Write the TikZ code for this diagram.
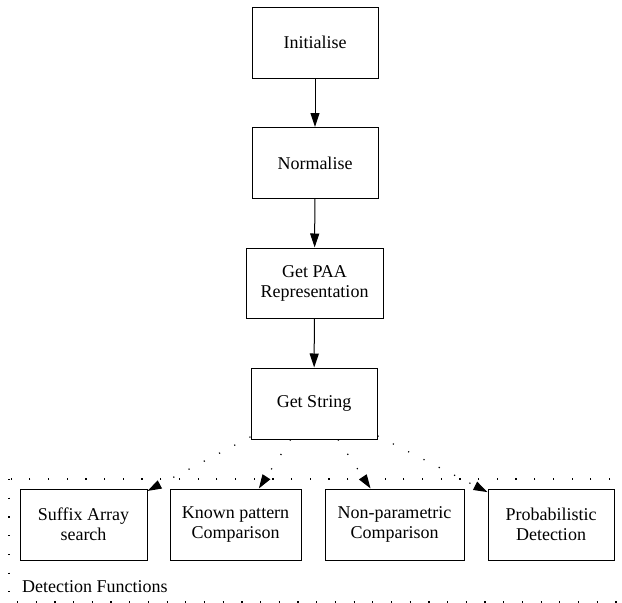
\documentclass[tikz,border=0pt]{standalone}
\usepackage{fontspec}
\setmainfont{Liberation Serif}
\usetikzlibrary{arrows.meta}
\tikzset{
  box/.style={draw, line width=1pt, rectangle, inner sep=0pt, align=center,
    font=\fontsize{18}{20}\selectfont},
  solidarrow/.style={draw, line width=1pt, -{Triangle[length=14pt,width=9pt]}},
  dotarrow/.style={draw, line width=1.2pt, dash pattern=on 1.2pt off 16pt,
    -{Triangle[length=14pt,width=9pt]}},
  clusterline/.style={draw, line width=1.2pt, dash pattern=on 1.2pt off 17.5pt},
}
\begin{document}
\begin{tikzpicture}[x=1pt,y=-1pt]
\clip (0,0) rectangle (622,603);
\fill[white] (0,0) rectangle (622,603);
% cluster
\draw[clusterline] (9,479) rectangle (626,602);
\node[anchor=base west, inner sep=0pt, font=\fontsize{18}{20}\selectfont] (lbl) at (22,592) {Detection Functions};
% main chain
\node[box, minimum width=126pt, minimum height=71pt] (init) at (315,42.5) {Initialise};
\node[box, minimum width=126pt, minimum height=71pt] (norm) at (315,163) {Normalise};
\node[box, minimum width=137pt, minimum height=70pt] (paa) at (314.5,283) {Get PAA\\Representation};
\node[box, minimum width=126pt, minimum height=71pt] (gstr) at (314,403.5) {Get String};
% detection functions
\node[box, minimum width=127pt, minimum height=71pt] (sfx) at (83.5,524.5) {Suffix Array\\search};
\node[box, minimum width=131pt, minimum height=71pt] (known) at (235.5,524.5) {Known pattern\\Comparison};
\node[box, minimum width=139pt, minimum height=71pt] (nonp) at (394.5,524.5) {Non-parametric\\Comparison};
\node[box, minimum width=126pt, minimum height=71pt] (prob) at (551,524.5) {Probabilistic\\Detection};
% edges
\draw[solidarrow] (init) -- (norm);
\draw[solidarrow] (norm) -- (paa);
\draw[solidarrow] (paa) -- (gstr);
\draw[dotarrow] (gstr) -- (sfx);
\draw[dotarrow] (gstr) -- (known);
\draw[dotarrow] (gstr) -- (nonp);
\draw[dotarrow] (gstr) -- (prob);
\end{tikzpicture}
\end{document}
